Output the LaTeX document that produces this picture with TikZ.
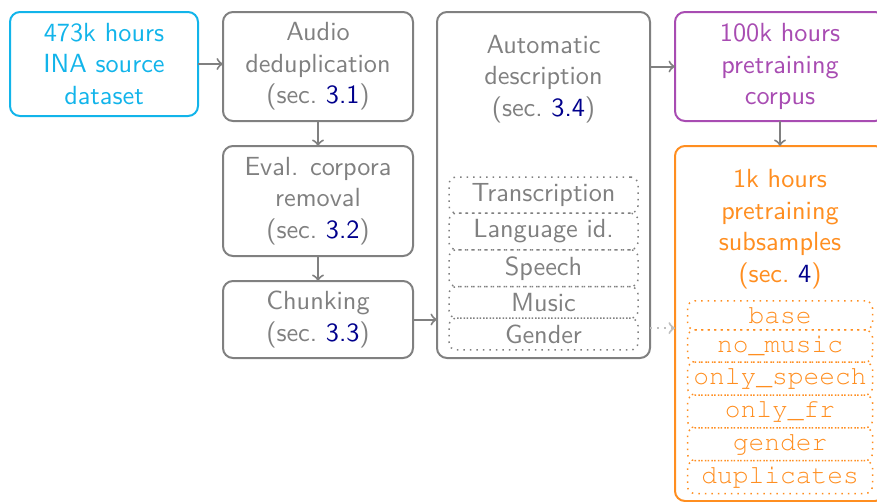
\documentclass[tikz,border=0pt]{standalone}
\usepackage{fontspec}
\setmonofont{Liberation Mono}
\usetikzlibrary{arrows,positioning}
\definecolor{inacyan}{RGB}{18,180,234}
\definecolor{corpusviolet}{RGB}{168,76,178}
\definecolor{subsetorange}{RGB}{255,142,32}
\definecolor{stagegray}{RGB}{128,128,128}
\definecolor{refblue}{RGB}{0,0,140}
\newcommand{\secref}[1]{(sec.~\textcolor{refblue}{#1})}
\newcommand{\subsetfont}{\fontencoding{T1}\fontfamily{pcr}\fontsize{10.5}{12.6}\selectfont}
\tikzstyle{box}=[
	rectangle,
	rounded corners=4pt,
	thick,
	align=center,
	inner sep=0pt,
	outer sep=0pt,
	font=\sffamily\fontsize{10.5}{12.6}\selectfont,
	node distance=10pt and 10pt
]
\tikzstyle{stage}=[
	box,
	draw=stagegray,
	text=stagegray,
	minimum width=76pt
]
\tikzstyle{tag}=[
	rectangle,
	rounded corners=3pt,
	semithick,
	dotted,
	draw=stagegray,
	text=stagegray,
	inner xsep=0pt,
	inner ysep=2.6pt,
	outer sep=0pt,
	minimum width=75.6pt,
	font=\sffamily\fontsize{10.5}{12.6}\selectfont
]
\tikzstyle{subset}=[
	tag,
	draw=subsetorange,
	text=subsetorange,
	minimum width=74pt,
	inner ysep=2.4pt,
	font=\subsetfont
]
\tikzstyle{flow}=[
	->,
	>=to,
	thick,
	draw=stagegray
]

\begin{document}
\begin{tikzpicture}
\useasboundingbox (0,0) rectangle (350.8pt,-200.8pt);
\clip (0,0) rectangle (350.8pt,-200.8pt);
% pipeline
\node [box, draw=inacyan, text=inacyan, minimum width=75.2pt, minimum height=41.6pt, anchor=north west] (source) at (4pt,-4.8pt) {473k hours\\INA source\\dataset};
\node [stage, minimum height=43.6pt, right=of source.north east, anchor=north west] (dedup) {Audio\\deduplication\\\secref{3.1}};
\node [stage, minimum height=44pt, below=of dedup] (evalrm) {Eval. corpora\\removal\\\secref{3.2}};
\node [stage, minimum height=30.8pt, below=of evalrm] (chunk) {Chunking\\\secref{3.3}};
\node [stage, minimum width=85.2pt, minimum height=138.4pt, right=9.6pt of dedup.north east, anchor=north west] (desc) {};
\node [box, text=stagegray, below=9.2pt of desc.north] (desctitle) {Automatic\\description\\\secref{3.4}};
\node [tag, below=66pt of desc.north] (transcr) {Transcription};
\node [tag, below=0pt of transcr] (langid) {Language id.};
\node [tag, below=0pt of langid] (speech) {Speech};
\node [tag, below=0pt of speech] (music) {Music};
\node [tag, below=0pt of music] (gender) {Gender};
% outputs
\node [box, draw=corpusviolet, text=corpusviolet, minimum width=84pt, minimum height=43.6pt, right=of desc.north east, anchor=north west] (corpus) {100k hours\\pretraining\\corpus};
\node [box, draw=subsetorange, minimum width=84pt, minimum height=142pt, below=of corpus] (subs) {};
\node [box, text=subsetorange, below=9.4pt of subs.north] (substitle) {1k hours\\pretraining\\subsamples\\\secref{4}};
\node [subset, below=61.9pt of subs.north] (base) {base};
\node [subset, below=0pt of base] (nomusic) {no\_music};
\node [subset, below=0pt of nomusic] (onlyspeech) {only\_speech};
\node [subset, below=0pt of onlyspeech] (onlyfr) {only\_fr};
\node [subset, below=0pt of onlyfr] (gendersub) {gender};
\node [subset, below=0pt of gendersub] (dups) {duplicates};
% arrows
\draw [flow] (source.east) -- (source.east -| dedup.west);
\draw [flow] (dedup) -- (evalrm);
\draw [flow] (evalrm) -- (chunk);
\draw [flow] (chunk.east) -- (chunk.east -| desc.west);
\draw [flow] (corpus.west -| desc.east) -- (corpus.west);
\draw [flow] (corpus) -- (corpus |- subs.north);
\coordinate (tagout) at ([yshift=2.4pt]gender.east);
\draw [flow, draw=stagegray!50, dotted] (tagout -| desc.east) -- (tagout -| subs.west);
\end{tikzpicture}
\end{document}
